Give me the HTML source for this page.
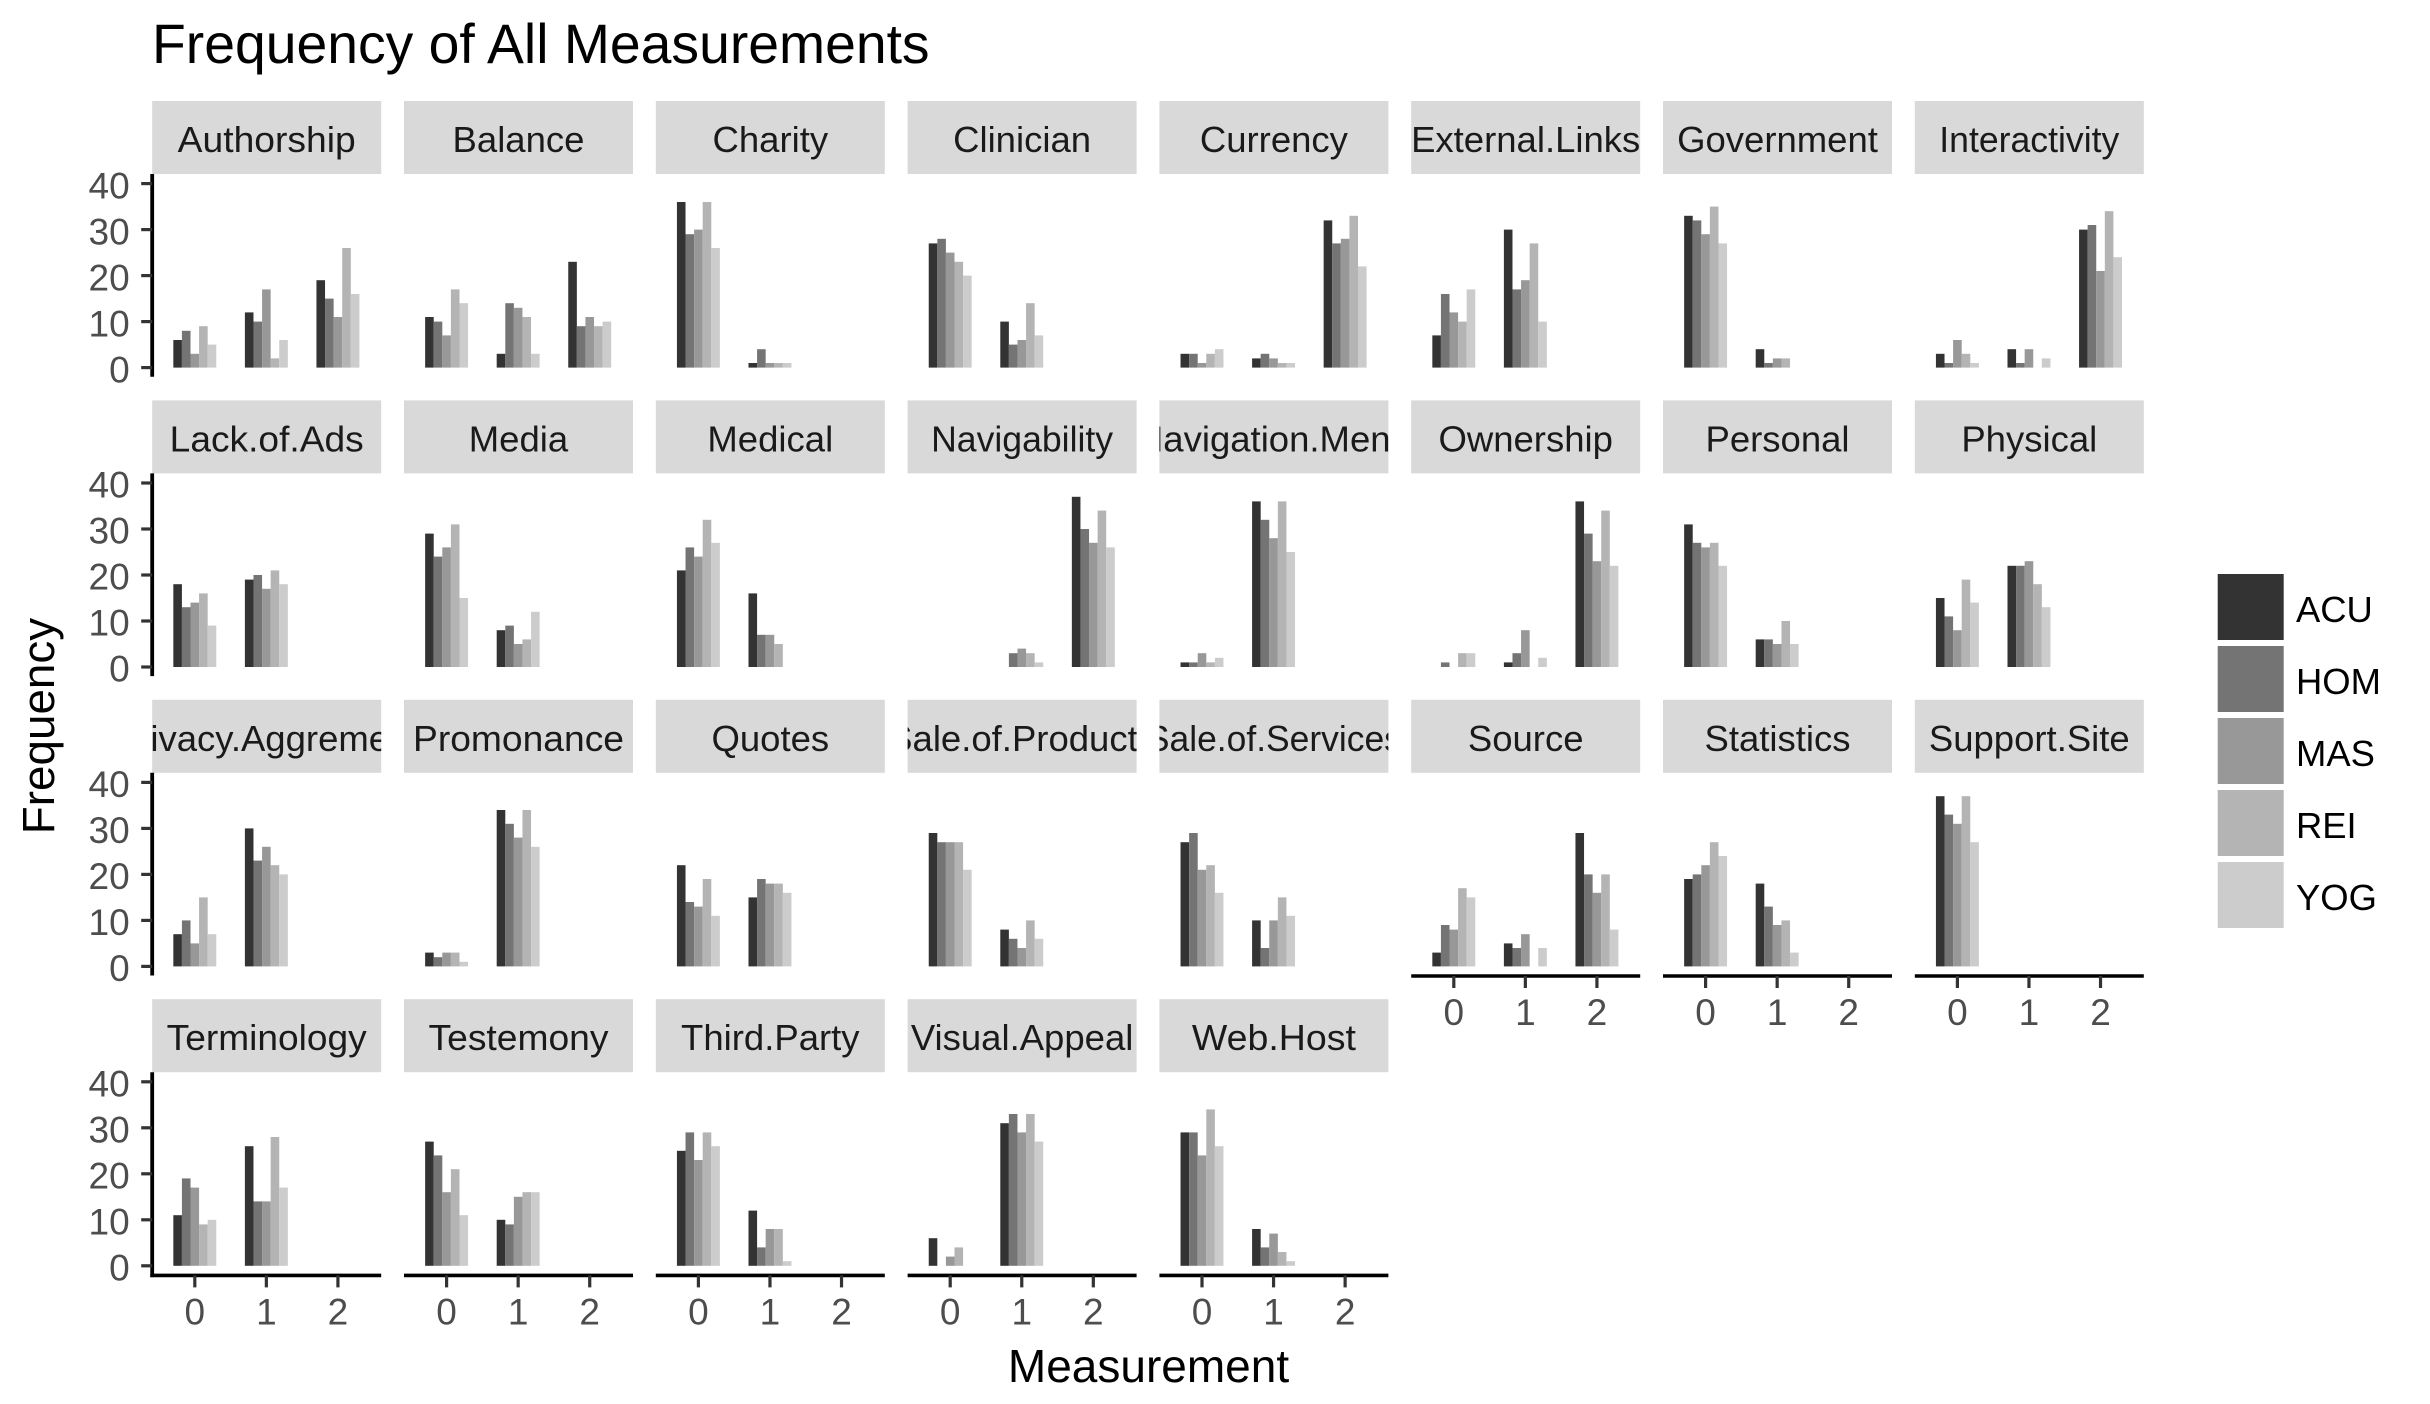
<!DOCTYPE html>
<html lang="en">
<head>
<meta charset="utf-8">
<title>Frequency of All Measurements</title>
<style>
html,body{margin:0;padding:0;background:#fff;}
svg{display:block;font-family:"Liberation Sans",Arial,sans-serif;}
</style>
</head>
<body>
<svg id="chart" xmlns="http://www.w3.org/2000/svg" width="2430" height="1404" viewBox="0 0 2430 1404">
<rect x="0" y="0" width="2430" height="1404" fill="#ffffff"/>
<text x="152" y="63" font-size="55.3" fill="#000000">Frequency of All Measurements</text>
<text x="1148.5" y="1382" font-size="46" text-anchor="middle" fill="#000000">Measurement</text>
<text transform="translate(54 726) rotate(-90)" font-size="45.8" text-anchor="middle" fill="#000000">Frequency</text>
<g id="panels"></g>
<g id="legend"></g>
</svg>
<script>
const facets = ["Authorship","Balance","Charity","Clinician","Currency","External.Links","Government","Interactivity",
"Lack.of.Ads","Media","Medical","Navigability","Navigation.Menu","Ownership","Personal","Physical",
"Privacy.Aggrement","Promonance","Quotes","Sale.of.Products","Sale.of.Services","Source","Statistics","Support.Site",
"Terminology","Testemony","Third.Party","Visual.Appeal","Web.Host"];
const measurements = ["0","1","2"];
const yTicks = [0,10,20,30,40];
const seriesNames = ["ACU","HOM","MAS","REI","YOG"];
const seriesColors = ["#333333","#747474","#989898","#b4b4b4","#cccccc"];
// Counts per facet (same order as facets), each [measurement 0, 1, 2]
const acuCounts = [[6,12,19],[11,3,23],[36,1,0],[27,10,0],[3,2,32],[7,30,0],[33,4,0],[3,4,30],
[18,19,0],[29,8,0],[21,16,0],[0,0,37],[1,36,0],[0,1,36],[31,6,0],[15,22,0],
[7,30,0],[3,34,0],[22,15,0],[29,8,0],[27,10,0],[3,5,29],[19,18,0],[37,0,0],
[11,26,0],[27,10,0],[25,12,0],[6,31,0],[29,8,0]];
const homCounts = [[8,10,15],[10,14,9],[29,4,0],[28,5,0],[3,3,27],[16,17,0],[32,1,0],[1,1,31],
[13,20,0],[24,9,0],[26,7,0],[0,3,30],[1,32,0],[1,3,29],[27,6,0],[11,22,0],
[10,23,0],[2,31,0],[14,19,0],[27,6,0],[29,4,0],[9,4,20],[20,13,0],[33,0,0],
[19,14,0],[24,9,0],[29,4,0],[0,33,0],[29,4,0]];
const masCounts = [[3,17,11],[7,13,11],[30,1,0],[25,6,0],[1,2,28],[12,19,0],[29,2,0],[6,4,21],
[14,17,0],[26,5,0],[24,7,0],[0,4,27],[3,28,0],[0,8,23],[26,5,0],[8,23,0],
[5,26,0],[3,28,0],[13,18,0],[27,4,0],[21,10,0],[8,7,16],[22,9,0],[31,0,0],
[17,14,0],[16,15,0],[23,8,0],[2,29,0],[24,7,0]];
const reiCounts = [[9,2,26],[17,11,9],[36,1,0],[23,14,0],[3,1,33],[10,27,0],[35,2,0],[3,0,34],
[16,21,0],[31,6,0],[32,5,0],[0,3,34],[1,36,0],[3,0,34],[27,10,0],[19,18,0],
[15,22,0],[3,34,0],[19,18,0],[27,10,0],[22,15,0],[17,0,20],[27,10,0],[37,0,0],
[9,28,0],[21,16,0],[29,8,0],[4,33,0],[34,3,0]];
const yogCounts = [[5,6,16],[14,3,10],[26,1,0],[20,7,0],[4,1,22],[17,10,0],[27,0,0],[1,2,24],
[9,18,0],[15,12,0],[27,0,0],[0,1,26],[2,25,0],[3,2,22],[22,5,0],[14,13,0],
[7,20,0],[1,26,0],[11,16,0],[21,6,0],[16,11,0],[15,4,8],[24,3,0],[27,0,0],
[10,17,0],[11,16,0],[26,1,0],[0,27,0],[26,1,0]];
const allSeries = [acuCounts,homCounts,masCounts,reiCounts,yogCounts];

const NS = "http://www.w3.org/2000/svg";
const COLS = 8, COL_STEP = 251.8, ROW_STEP = 299.4, LEFT = 152.2, TOP = 101;
const PANEL_W = 229, STRIP_H = 73, BASE_OFFSET = 266.6, AXIS_OFFSET = 276.2, PX_PER_COUNT = 4.6;
const UNIT = PANEL_W / 3.2, BAR_W = UNIT * 0.12;
// Rendered label widths that differ from the default font metrics
function stripLabelLength(name){
  switch (name) {
    case "Authorship": return 178;
    case "Promonance": return 211;
    case "Terminology": return 200;
    case "Testemony": return 180;
    case "Lack.of.Ads": return 194;
    case "Interactivity": return 180;
    case "Navigability": return 182;
    case "Web.Host": return 164;
    case "Sale.of.Services": return 256;
    default: return 0;
  }
}

function slug(s){ return s.toLowerCase().replace(/\./g,'-'); }
function panelLeft(i){ return LEFT + (i % COLS) * COL_STEP; }
function panelTop(i){ return TOP + Math.floor(i / COLS) * ROW_STEP; }
function xCenter(i, m){ return panelLeft(i) + 42.6 + m * UNIT; }
function xBar(i, m, s){ return xCenter(i, m) - 2.5 * BAR_W + s * BAR_W; }
function yValue(i, v){ return panelTop(i) + BASE_OFFSET - v * PX_PER_COUNT; }
function make(tag, parent, attrs){
  const el = document.createElementNS(NS, tag);
  for (const k in attrs) el.setAttribute(k, attrs[k]);
  parent.appendChild(el);
  return el;
}

const root = document.getElementById('panels');
const defs = make('defs', root, {});
const total = facets.length;

facets.forEach(function(name, i){
  const key = slug(name);
  const x0 = panelLeft(i), top = panelTop(i);
  const col = i % COLS;
  const hasXAxis = i + COLS >= total;
  const g = make('g', root, {});
  
  

  const clip = make('clipPath', defs, {id: 'strip-clip-' + i});
  make('rect', clip, {x: x0, y: top, width: PANEL_W, height: STRIP_H});

  const strip = make('rect', g, {x: x0, y: top, width: PANEL_W, height: STRIP_H, fill: '#d9d9d9'});
  
  

  const label = make('text', g, {x: x0 + PANEL_W / 2, y: top + 51, 'font-size': 36.5, 'text-anchor': 'middle', fill: '#1a1a1a', 'clip-path': 'url(#strip-clip-' + i + ')'});
  label.textContent = name;
  
  
  const labelLength = stripLabelLength(name);
  if (labelLength) {
    label.setAttribute('textLength', labelLength);
    label.setAttribute('lengthAdjust', 'spacingAndGlyphs');
  }

  measurements.forEach(function(m, mi){
    allSeries.forEach(function(series, s){
      const v = series[i][mi];
      const bar = make('rect', g, {x: xBar(i, mi, s), y: yValue(i, v), width: BAR_W, height: v * PX_PER_COUNT, fill: seriesColors[s]});
      
      
    });
  });

  if (col === 0) {
    const lineEnd = hasXAxis ? top + AXIS_OFFSET + 1.7 : top + 275.7;
    const yAxis = make('line', g, {x1: x0, x2: x0, y1: top + STRIP_H, y2: lineEnd, stroke: '#000000', 'stroke-width': 3.8});
    
    
    yTicks.forEach(function(t){
      const y = yValue(i, t);
      const tick = make('line', g, {x1: x0 - 11, x2: x0, y1: y, y2: y, stroke: '#333333', 'stroke-width': 3.2});
      
      
      const tl = make('text', g, {x: x0 - 22.5, y: y + 14.7, 'font-size': 37, 'text-anchor': 'end', fill: '#4d4d4d'});
      tl.textContent = t;
      
      
    });
  }

  if (hasXAxis) {
    const axisY = top + AXIS_OFFSET;
    const xAxis = make('line', g, {x1: x0 - (col === 0 ? 1.9 : 0), x2: x0 + PANEL_W, y1: axisY, y2: axisY, stroke: '#000000', 'stroke-width': 3.6});
    
    
    measurements.forEach(function(m, mi){
      const cx = xCenter(i, mi);
      const tick = make('line', g, {x1: cx, x2: cx, y1: axisY, y2: axisY + 12, stroke: '#333333', 'stroke-width': 3.2});
      
      
      const tl = make('text', g, {x: cx, y: axisY + 49, 'font-size': 37, 'text-anchor': 'middle', fill: '#4d4d4d'});
      tl.textContent = m;
      
      
    });
  }
});

const legendRoot = document.getElementById('legend');
seriesNames.forEach(function(n, s){
  const top = 574 + s * 72;
  const entry = make('g', legendRoot, {});
  
  
  const key = make('rect', entry, {x: 2217.7, y: top, width: 66, height: 66, fill: seriesColors[s]});
  
  
  const t = make('text', entry, {x: 2296, y: top + 48, 'font-size': 36.4, fill: '#000000'});
  t.textContent = n;
  
  
});
</script>
</body>
</html>
